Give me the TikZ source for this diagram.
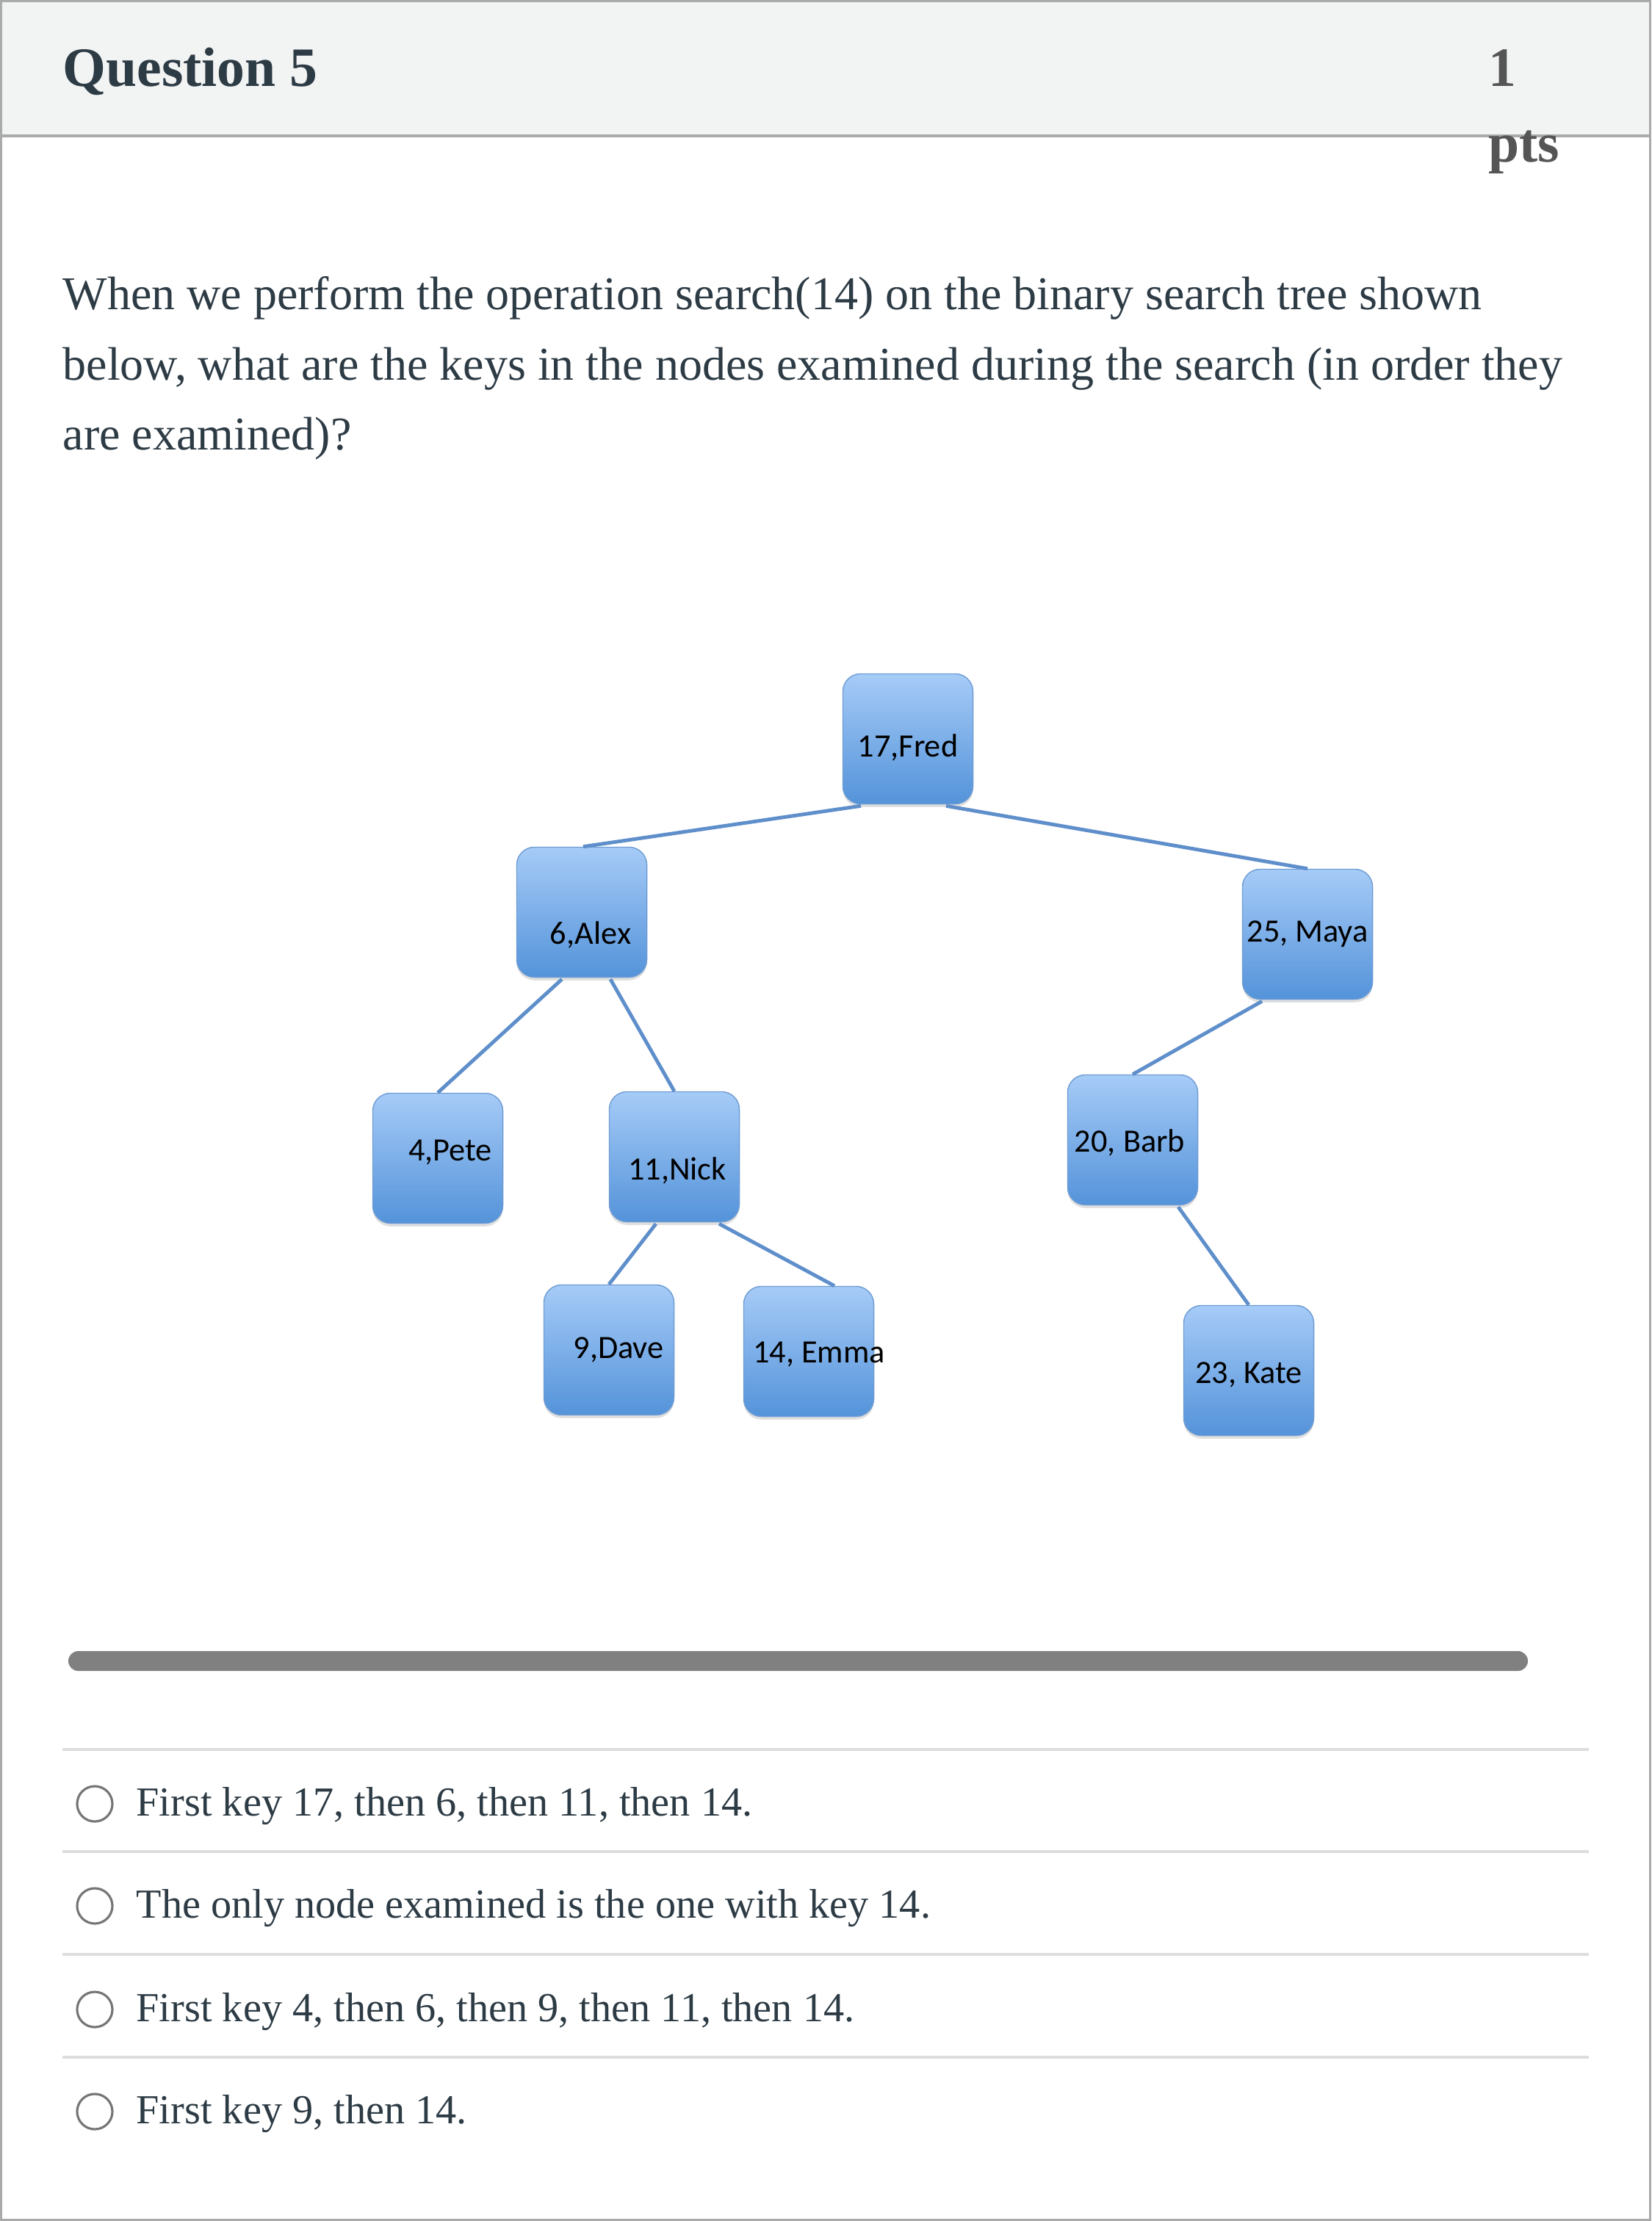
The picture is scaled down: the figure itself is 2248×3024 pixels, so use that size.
\documentclass[tikz,border=0pt]{standalone}
\usepackage{fontspec}
\setmainfont{Liberation Serif}
\newfontfamily\boxfont{Carlito}
\usetikzlibrary{calc, shadows}
\definecolor{canvasText}{RGB}{45,59,69}
\definecolor{ptsGray}{RGB}{85,85,85}
\definecolor{frameGray}{RGB}{170,170,170}
\definecolor{headFill}{RGB}{242,243,243}
\definecolor{ruleGray}{RGB}{221,221,221}
\definecolor{barGray}{RGB}{128,128,128}
\definecolor{radioGray}{RGB}{118,118,118}
\definecolor{keyTop}{RGB}{166,203,247}
\definecolor{keyBot}{RGB}{84,147,218}
\definecolor{keyEdge}{RGB}{110,156,212}
\definecolor{branchBlue}{RGB}{95,143,203}
\tikzset{
    keybox/.style={rectangle, rounded corners=0.24cm, draw=keyEdge, line width=0.4pt,
                   top color=keyTop, bottom color=keyBot, inner sep=0pt,
                   minimum width=1.77cm, minimum height=1.77cm,
                   drop shadow={shadow xshift=0pt, shadow yshift=-1.2pt, opacity=0.25}},
    keytext/.style={font=\boxfont\fontsize{12.6}{14}\selectfont, text=black, inner sep=0pt},
    branch/.style={draw=branchBlue, line width=1.4pt},
    head/.style={anchor=base west, inner sep=0pt, font=\bfseries\fontsize{21.5}{26}\selectfont, text=#1},
    head/.default=canvasText,
    qline/.style={anchor=mid west, inner sep=0pt, text=canvasText, font=\fontsize{18.2}{22}\selectfont},
    opt/.style={anchor=mid west, inner sep=0pt, text=canvasText, font=\fontsize{16}{19}\selectfont},
    radio/.style={circle, draw=radioGray, line width=0.9pt, minimum size=0.48cm, inner sep=0pt},
    sepline/.style={draw=ruleGray, line width=1.1pt}
}

\begin{document}
\begin{tikzpicture}[x=0.01cm, y=-0.01cm]
    \useasboundingbox (0,0) rectangle (2248,3024);
    \fill[headFill] (0,0) rectangle (2248,185);
    \draw[frameGray, line width=1.1pt] (0,185) -- (2248,185);
    \draw[frameGray, line width=0.9pt] (1.5,1.5) rectangle (2246.5,3022.5);
    \node[head] (qtitle) at (85,117) {Question 5};
    \node[head=ptsGray] (qpts) at (2026,117) {1};
    \node[head=ptsGray] (qptsb) at (2026,220) {pts};
    \foreach \yy/\txt [count=\i] in {413/{When we perform the operation search(14) on the binary search tree shown},
                                     509/{below, what are the keys in the nodes examined during the search (in order they},
                                     604/{are examined)?}} {
        \node[qline] (q\i) at (85,\yy) {\txt};
    }
    \foreach \nm/\x/\y/\dx/\dy/\lab in {fred/1236/1006/0/12/{17,Fred}, alex/792/1242/12/31/{6,Alex},
                                       maya/1780/1272/0/0/{25, Maya}, pete/596/1577/17/-8/{4,Pete},
                                       nick/918/1575/4/19/{11,Nick}, barb/1542/1552/-4/4/{20, Barb},
                                       dave/829/1838/13/0/{9,Dave}, emma/1101/1840/14/4/{14, Emma},
                                       kate/1700/1866/0/6/{23, Kate}} {
        \node[keybox] (\nm) at (\x,\y) {};
        \node[keytext] (\nm-t) at ($(\nm)+(\dx,\dy)$) {\lab};
    }
    \foreach \a/\b/\s/\e in {fred/alex/-64/2, fred/maya/52/0, alex/pete/-27/0, alex/nick/39/0,
                             maya/barb/-62/0, barb/kate/62/0, nick/dave/-25/0, nick/emma/61/35} {
        \draw[branch] ($(\a.south)+(\s,2)$) -- ($(\b.north)+(\e,0)$);
    }
    \fill[barGray, rounded corners=0.135cm] (93,2248) rectangle (2080,2275);
    \foreach \yy in {2382,2521,2661,2801} {
        \draw[sepline] (85,\yy) -- (2163,\yy);
    }
    \foreach \yy/\txt [count=\i] in {2464/{First key 17, then 6, then 11, then 14.},
                                     2603/{The only node examined is the one with key 14.},
                                     2744/{First key 4, then 6, then 9, then 11, then 14.},
                                     2883/{First key 9, then 14.}} {
        \node[radio] (r\i) at (129,\yy-8) {};
        \node[opt] (o\i) at (185,\yy) {\txt};
    }
\end{tikzpicture}
\end{document}
